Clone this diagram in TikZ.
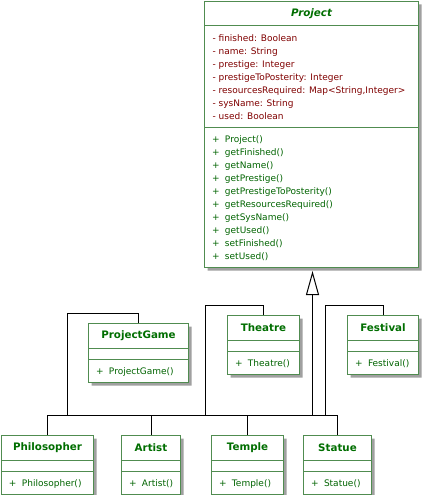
\documentclass[tikz,border=0pt]{standalone}
\usepackage{fontspec}
\setmainfont{DejaVu Sans}
\usetikzlibrary{positioning, shapes.multipart, arrows.meta, shadows}
\definecolor{ClassLine}{RGB}{80,140,80}
\definecolor{ClassName}{RGB}{0,110,0}
\definecolor{AttrText}{RGB}{128,0,0}
\definecolor{OpText}{RGB}{0,100,0}
\definecolor{ShadowGray}{RGB}{160,160,160}
\tikzstyle{Class} = [
rectangle split, rectangle split parts=3,
draw=ClassLine, line width=1pt, fill=white, inner sep=0pt,
anchor=north west,
drop shadow={shadow xshift=3pt, shadow yshift=-3pt,
fill=ShadowGray, opacity=1}]
\tikzstyle{Link} = [line width=1pt]
\tikzstyle{Inherit} = [
line width=1pt,
-{Triangle[open, length=24pt, width=13pt]},
shorten >= 3pt]
\newcommand{\ClassHead}[3]{\vbox to #2{\hsize=#1\vfil
  \hbox to\hsize{\hfil\fontsize{10.3}{12}\selectfont\bfseries
  \textcolor{ClassName}{#3}\hfil}\vfil}}
\newcommand{\ClassEmpty}[1]{\vbox to 10pt{\hsize=#1\vfil
  \hbox to\hsize{\hfil}\vfil}}
\newcommand{\MemberList}[4]{\vbox to #2{\hsize=#1
  \fontsize{9}{13}\selectfont\baselineskip=13pt
  \kern#3\hbox{}#4\vfil}}
\newcommand{\Attr}[1]{\hbox to\hsize{\hskip8pt\textcolor{AttrText}{#1}\hfil}}
\newcommand{\Op}[1]{\hbox to\hsize{\hskip7.5pt
  \textcolor{OpText}{\makebox[13pt][l]{+}#1}\hfil}}

\begin{document}
\begin{tikzpicture}[x=1pt, y=-1pt]
    \useasboundingbox (0,0) rectangle (422,495);

    \node[Class] (project) at (204,1) {\ClassHead{214pt}{23pt}{\itshape Project}
      \nodepart{two}\MemberList{214pt}{101pt}{2pt}{%
        \Attr{- finished: Boolean}
        \Attr{- name: String}
        \Attr{- prestige: Integer}
        \Attr{- prestigeToPosterity: Integer}
        \Attr{- resourcesRequired: Map<String,Integer>}
        \Attr{- sysName: String}
        \Attr{- used: Boolean}}
      \nodepart{three}\MemberList{214pt}{139pt}{1pt}{%
        \Op{Project()}
        \Op{getFinished()}
        \Op{getName()}
        \Op{getPrestige()}
        \Op{getPrestigeToPosterity()}
        \Op{getResourcesRequired()}
        \Op{getSysName()}
        \Op{getUsed()}
        \Op{setFinished()}
        \Op{setUsed()}}};

    \node[Class] (game) at (88,323) {\ClassHead{100pt}{24pt}{ProjectGame}
      \nodepart{two}\ClassEmpty{100pt}
      \nodepart{three}\MemberList{100pt}{22pt}{1pt}{\Op{ProjectGame()}}};
    \node[Class] (theatre) at (227,315) {\ClassHead{72pt}{24pt}{Theatre}
      \nodepart{two}\ClassEmpty{72pt}
      \nodepart{three}\MemberList{72pt}{22pt}{1pt}{\Op{Theatre()}}};
    \node[Class] (festival) at (347,315) {\ClassHead{71pt}{24pt}{Festival}
      \nodepart{two}\ClassEmpty{71pt}
      \nodepart{three}\MemberList{71pt}{22pt}{1pt}{\Op{Festival()}}};

    \node[Class] (philosopher) at (1,435) {\ClassHead{92pt}{24pt}{Philosopher}
      \nodepart{two}\ClassEmpty{92pt}
      \nodepart{three}\MemberList{92pt}{22pt}{1pt}{\Op{Philosopher()}}};
    \node[Class] (artist) at (121,435) {\ClassHead{59pt}{24pt}{Artist}
      \nodepart{two}\ClassEmpty{59pt}
      \nodepart{three}\MemberList{59pt}{22pt}{1pt}{\Op{Artist()}}};
    \node[Class] (temple) at (211,435) {\ClassHead{72pt}{24pt}{Temple}
      \nodepart{two}\ClassEmpty{72pt}
      \nodepart{three}\MemberList{72pt}{22pt}{1pt}{\Op{Temple()}}};
    \node[Class] (statue) at (303,435) {\ClassHead{68pt}{24pt}{Statue}
      \nodepart{two}\ClassEmpty{68pt}
      \nodepart{three}\MemberList{68pt}{22pt}{1pt}{\Op{Statue()}}};

    \coordinate (bus) at (312.5,415);
    \coordinate (gamebend) at (67,313);
    \coordinate (theatrebend) at (205,305);
    \coordinate (festivalbend) at (325,305);

    \draw[Inherit] (bus) -- (project.south -| bus);
    \draw[Link] (game.north) |- (gamebend) |- (bus);
    \draw[Link] (theatre.north) |- (theatrebend) |- (bus);
    \draw[Link] (festival.north) |- (festivalbend) |- (bus);
    \draw[Link] (philosopher.north) |- (bus);
    \draw[Link] (artist.north) |- (bus);
    \draw[Link] (temple.north) |- (bus);
    \draw[Link] (statue.north) |- (bus);
\end{tikzpicture}
\end{document}
